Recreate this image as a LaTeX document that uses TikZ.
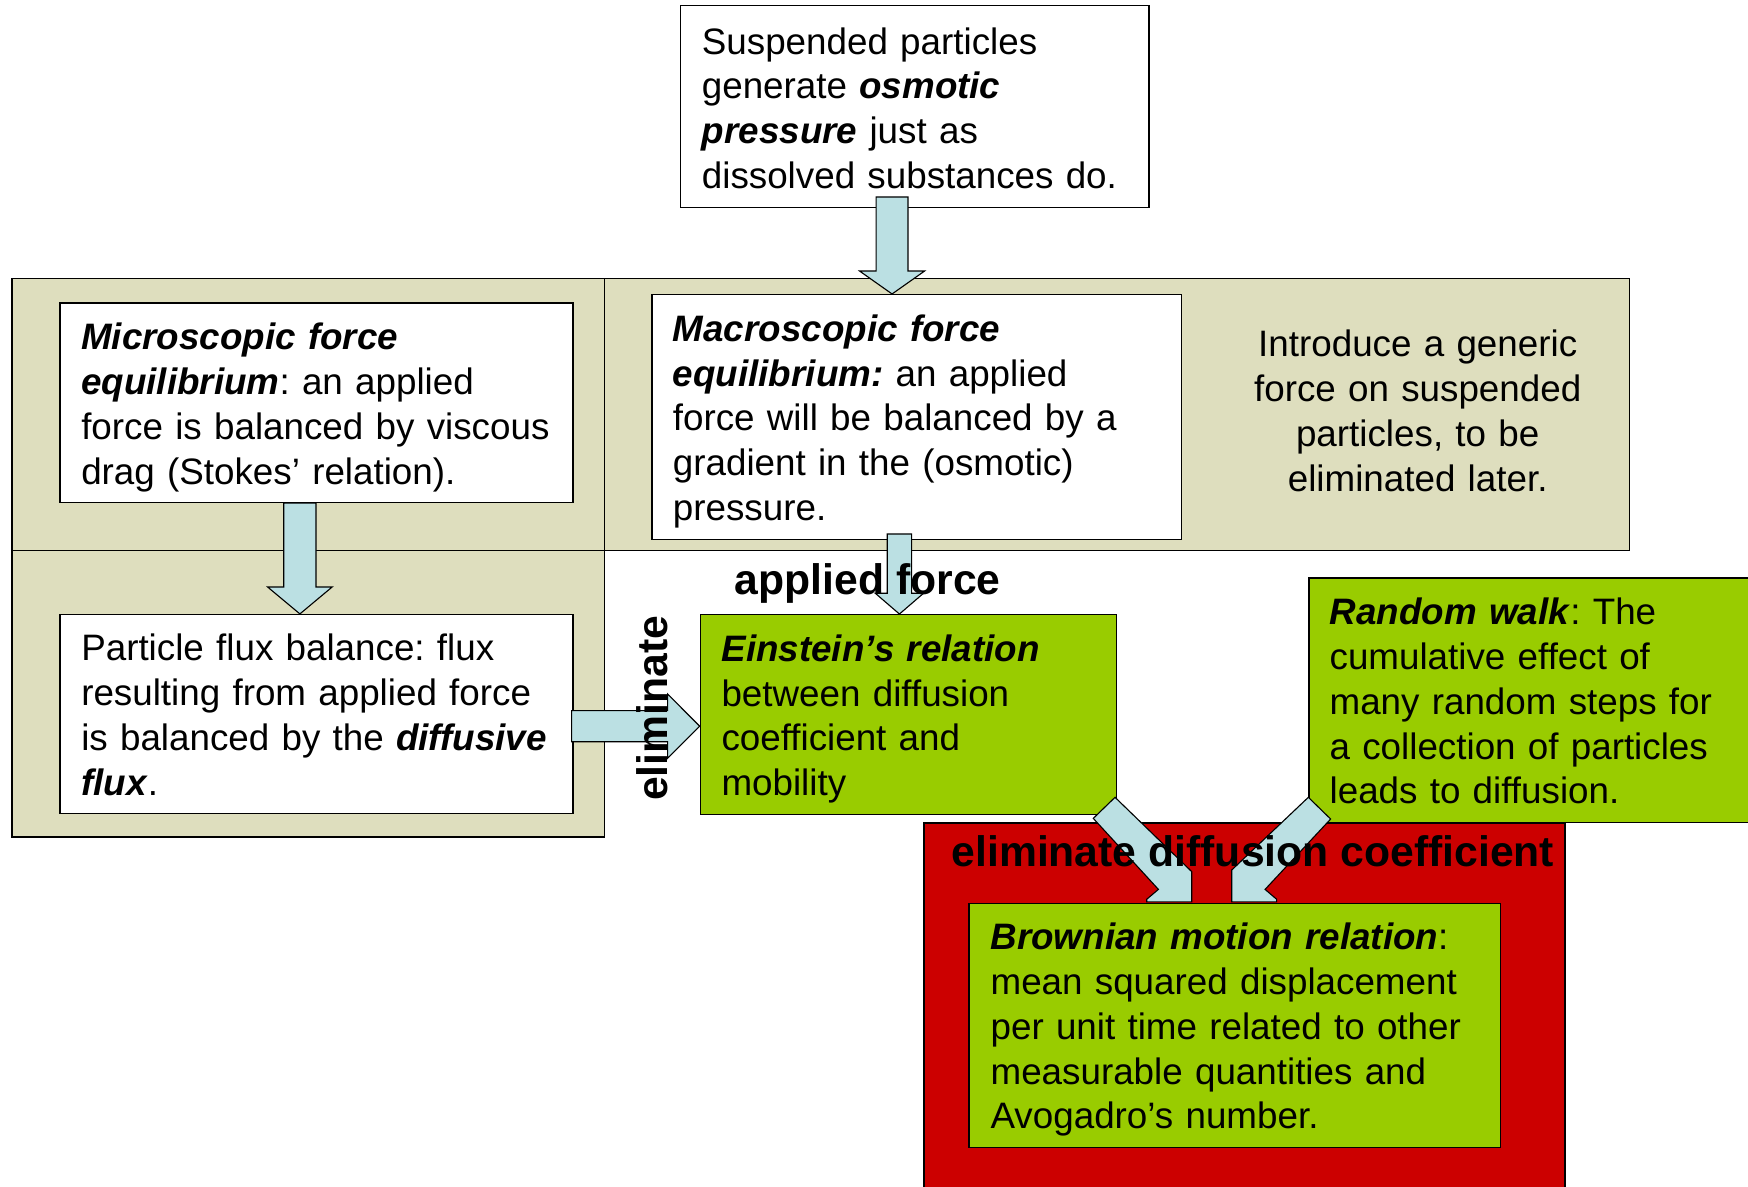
\documentclass[tikz,border=0pt]{standalone}
\usepackage{fontspec}
\setmainfont{Liberation Sans}
\usetikzlibrary{calc}
\frenchspacing

\definecolor{panel}{RGB}{222,222,190}
\definecolor{flow}{RGB}{187,224,227}
\definecolor{leaf}{RGB}{153,204,0}
\definecolor{alert}{RGB}{204,0,0}

\newcommand{\emb}[1]{\textbf{\textit{#1}}}

% block arrow: #1 tail, #2 tip, #3 shaft half width, #4 head half width, #5 head length
\newcommand{\flowarrow}[5]{%
  \coordinate (fa-b) at ($(#2)!#5!(#1)$);
  \filldraw[flowshape]
    ($(#1)!#3!90:(#2)$) -- ($(fa-b)!#3!-90:(#1)$) -- ($(fa-b)!#4!-90:(#1)$) --
    (#2) -- ($(fa-b)!#4!90:(#1)$) -- ($(fa-b)!#3!90:(#1)$) --
    ($(#1)!#3!-90:(#2)$) -- cycle;}

\tikzset{
  panelbox/.style={draw=black, line width=1.3pt, fill=panel, inner sep=0pt, anchor=north west},
  whitebox/.style={draw=black, line width=1.3pt, fill=white, inner sep=0pt, anchor=north west},
  greenbox/.style={draw=black, line width=1.3pt, fill=leaf, inner sep=0pt, anchor=north west},
  redbox/.style={draw=black, line width=1.3pt, fill=alert, inner sep=0pt, anchor=north west},
  flowshape/.style={draw=black, line width=1pt, fill=flow, line join=miter},
  body/.style={inner sep=0pt, anchor=base west, text width=560pt, align=left,
    font=\fontsize{33}{40.3}\selectfont},
  centred/.style={inner sep=0pt, anchor=base, text width=400pt, align=center,
    font=\fontsize{33}{40.3}\selectfont},
  tag/.style={inner sep=0pt, font=\fontsize{38.3}{44}\selectfont\bfseries},
}

\begin{document}
\begin{tikzpicture}[x=1pt, y=-1pt]
  \useasboundingbox (0,0) rectangle (1568,1064);
  \clip (0,0) rectangle (1568,1064);

  % panels of the table
  \node[panelbox, minimum width=531.5pt, minimum height=244.4pt] (tl) at (10,249) {};
  \node[panelbox, minimum width=919.5pt, minimum height=244.4pt] (tr) at (541.5,249) {};
  \node[panelbox, minimum width=531.5pt, minimum height=256.9pt] (bl) at (10,493.4) {};

  % boxes
  \node[whitebox, minimum width=420pt, minimum height=181.2pt] (top) at (610,4.5) {};
  \node[whitebox, minimum width=460pt, minimum height=178.7pt] (micro) at (53.2,271.3) {};
  \node[whitebox, minimum width=460pt, minimum height=178.3pt] (flux) at (53.2,550.7) {};
  \node[whitebox, minimum width=474.8pt, minimum height=219.8pt] (macro) at (584.2,263.7) {};
  \node[greenbox, minimum width=373.2pt, minimum height=179.4pt] (einstein) at (627.6,550.8) {};
  \node[greenbox, minimum width=430pt, minimum height=219.1pt] (walk) at (1173.6,517.9) {};
  \node[redbox, minimum width=575.1pt, minimum height=340pt] (red) at (828.1,737.5) {};

  % texts
  \node[body] (toptext) at (629.4,48.5) {Suspended particles\\generate \emb{osmotic}\\\emb{pressure} just as\\dissolved substances do.};
  \node[body] (microtext) at (72.7,313.3) {\emb{Microscopic force}\\\emb{equilibrium}: an applied\\force is balanced by viscous\\drag (Stokes’ relation).};
  \node[body] (fluxtext) at (72.7,592.5) {Particle flux balance: flux\\resulting from applied force\\is balanced by the \emb{diffusive}\\\emb{flux}.};
  \node[body] (macrotext) at (603.4,306) {\emb{Macroscopic force}\\\emb{equilibrium:} an applied\\force will be balanced by a\\gradient in the (osmotic)\\pressure.};
  \node[centred] (introtext) at (1271.7,320) {Introduce a generic\\force on suspended\\particles, to be\\eliminated later.};
  \node[body] (einsteintext) at (647,593) {\emb{Einstein’s relation}\\between diffusion\\coefficient and\\mobility};
  \node[body] (walktext) at (1192.5,560) {\emb{Random walk}: The\\cumulative effect of\\many random steps for\\a collection of particles\\leads to diffusion.};

  % straight block arrows
  \coordinate (a1) at (800.2,176.7);
  \flowarrow{a1}{a1 |- macro.north}{14.3pt}{29.2pt}{20.6pt}
  \coordinate (a2x) at (269,0);
  \coordinate (a2) at (a2x |- micro.south);
  \flowarrow{a2}{a2 |- flux.north}{14.5pt}{29pt}{24.2pt}
  \coordinate (a3) at (806.8,479);
  \flowarrow{a3}{a3 |- einstein.north}{10.9pt}{21.6pt}{18.6pt}
  \coordinate (a4) at (512.8,651.4);
  \flowarrow{a4}{a4 -| einstein.west}{14pt}{28.8pt}{28.7pt}

  % diagonal arrows into the Brownian motion box
  \filldraw[flowshape] (980.7,734.1) -- (1000.2,715.2) -- (1069.0,781.9) -- (1069.0,809)
    -- (1028.6,809) -- (1028.6,806.7) -- (1039.1,797.8) -- cycle;
  \filldraw[flowshape] (1193.6,734.7) -- (1173.6,715.2) -- (1104.9,780.4) -- (1104.9,809)
    -- (1145.2,809) -- (1145.2,806.7) -- (1134.8,797.8) -- cycle;

  \node[greenbox, minimum width=476.6pt, minimum height=218.9pt] (brownian) at (868.6,809.7) {};
  \node[body] (browniantext) at (888.4,851.5) {\emb{Brownian motion relation}:\\mean squared displacement\\per unit time related to other\\measurable quantities and\\Avogadro’s number.};

  % arrow labels
  \node[tag, anchor=base] (applied) at (778.3,533) {applied force};
  \node[tag, anchor=base west, rotate=90] (elim) at (598.5,718.6) {eliminate};
  \node[tag, anchor=base west] (elimd) at (853.4,777) {eliminate diffusion coefficient};
\end{tikzpicture}
\end{document}
